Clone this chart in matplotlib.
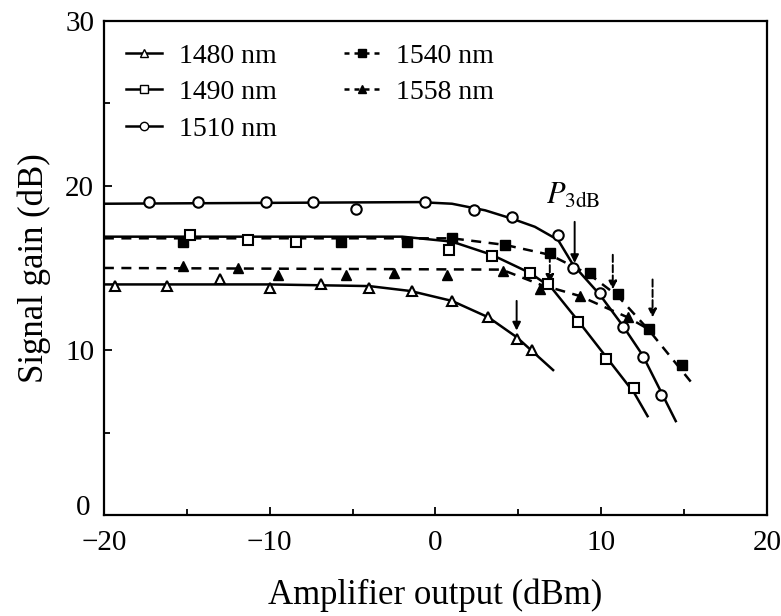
import numpy as np
import matplotlib
matplotlib.use('Agg')
import matplotlib.pyplot as plt
import matplotlib.transforms as mtransforms
from matplotlib.lines import Line2D
from matplotlib.ticker import MultipleLocator, FuncFormatter

plt.rcParams['font.family'] = ['Liberation Serif', 'DejaVu Serif']
plt.rcParams['mathtext.fontset'] = 'stix'

# ------------------------------------------------------------------
# Measured gain (dB) vs amplifier output (dBm) for each signal wavelength
# ------------------------------------------------------------------
x_1480 = [-19.3, -16.2, -13.0, -10.0, -6.9, -4.0, -1.4, 1.0, 3.2, 4.9, 5.8]
y_1480 = [13.9, 13.9, 14.3, 13.8, 14.0, 13.8, 13.6, 13.0, 12.0, 10.7, 10.0]

x_1490 = [-14.8, -11.3, -8.4, 0.8, 3.4, 5.7, 6.8, 8.6, 10.3, 12.0]
y_1490 = [17.0, 16.7, 16.6, 16.1, 15.7, 14.7, 14.0, 11.7, 9.5, 7.7]

x_1510 = [-17.3, -14.3, -10.2, -7.4, -4.8, -0.6, 2.3, 4.6, 7.4, 8.3, 9.9, 11.3, 12.5, 13.6]
y_1510 = [19.0, 19.0, 19.0, 19.0, 18.6, 19.0, 18.5, 18.1, 17.0, 15.0, 13.5, 11.4, 9.6, 7.3]

x_1540 = [-15.2, -5.7, -1.7, 1.0, 4.2, 6.9, 9.3, 11.0, 12.9, 14.9]
y_1540 = [16.6, 16.6, 16.6, 16.8, 16.4, 15.9, 14.7, 13.4, 11.3, 9.1]

x_1558 = [-15.2, -11.9, -9.5, -5.4, -2.5, 0.7, 4.1, 6.3, 8.7, 11.6]
y_1558 = [15.1, 15.0, 14.6, 14.6, 14.7, 14.6, 14.8, 13.7, 13.3, 12.0]

# Hand-drawn fit curves through the data
fx_1480 = [-20, -10, -4, -1.5, 1.0, 3.2, 4.9, 7.1]
fy_1480 = [14.0, 14.0, 13.9, 13.6, 13.0, 12.0, 10.8, 8.8]

fx_1490 = [-20, -2, 1.0, 3.4, 5.7, 7.0, 8.6, 10.3, 12.0, 12.8]
fy_1490 = [16.9, 16.9, 16.6, 15.8, 14.7, 13.8, 11.8, 9.6, 7.4, 6.0]

fx_1510 = [-20, -1, 1.0, 3.0, 4.6, 6.0, 7.4, 8.3, 9.9, 11.3, 12.5, 14.5]
fy_1510 = [18.9, 19.0, 18.9, 18.5, 18.0, 17.5, 16.7, 15.2, 13.4, 11.5, 9.7, 5.7]

fx_1540 = [-20, 1.0, 4.2, 6.9, 9.3, 11.0, 12.9, 15.4]
fy_1540 = [16.8, 16.8, 16.4, 15.8, 14.6, 13.3, 11.2, 8.1]

fx_1558 = [-20, 4.0, 6.3, 8.7, 11.6, 13.0]
fy_1558 = [15.0, 14.9, 14.0, 13.3, 12.0, 11.2]

# P3dB markers: (x, y_start, y_end)
arrows_solid = [(8.4, 17.8, 15.3), (4.9, 13.0, 11.2)]
arrows_dashed = [(6.9, 15.8, 14.1), (10.7, 15.8, 13.7), (13.1, 14.3, 12.0)]

# ------------------------------------------------------------------
fig = plt.figure(figsize=(7.81, 6.16), dpi=100)
ax = fig.add_axes([0.133, 0.164, 0.849, 0.802])

lw = 1.8
ms = 7.5
dash = (0, (4, 3))

ax.plot(fx_1480, fy_1480, '-', color='k', lw=lw)
ax.plot(fx_1490, fy_1490, '-', color='k', lw=lw)
ax.plot(fx_1510, fy_1510, '-', color='k', lw=lw)
ax.plot(fx_1540, fy_1540, color='k', lw=lw, linestyle=dash)
ax.plot(fx_1558, fy_1558, color='k', lw=lw, linestyle=dash)

ax.plot(x_1540, y_1540, 's', color='k', ms=ms, zorder=3)
ax.plot(x_1558, y_1558, '^', color='k', ms=ms, zorder=3)
ax.plot(x_1480, y_1480, '^', mfc='w', mec='k', mew=1.5, ms=ms, zorder=4)
ax.plot(x_1490, y_1490, 's', mfc='w', mec='k', mew=1.5, ms=ms, zorder=4)
ax.plot(x_1510, y_1510, 'o', mfc='w', mec='k', mew=1.5, ms=ms, zorder=4)

for xa, y0, y1 in arrows_solid:
    ax.annotate('', xy=(xa, y1), xytext=(xa, y0),
                arrowprops=dict(arrowstyle='-|>', color='k', lw=1.4,
                                mutation_scale=12, shrinkA=0, shrinkB=0))
for xa, y0, y1 in arrows_dashed:
    ax.annotate('', xy=(xa, y1), xytext=(xa, y0),
                arrowprops=dict(arrowstyle='-|>', color='k', lw=1.4, ls='--',
                                mutation_scale=12, shrinkA=0, shrinkB=0))

ax.text(8.3, 18.9, r'$P_{\mathrm{3dB}}$', ha='center', va='baseline', fontsize=22)

# Axes
ax.set_xlim(-20, 20)
ax.set_ylim(0, 30)
ax.xaxis.set_major_locator(MultipleLocator(10))
ax.xaxis.set_minor_locator(MultipleLocator(5))
ax.yaxis.set_major_locator(MultipleLocator(10))
ax.yaxis.set_minor_locator(MultipleLocator(5))
ax.tick_params(which='both', direction='in', top=False, right=False,
               labelsize=21, width=1.3)
ax.tick_params(which='major', length=6, pad=7)
ax.tick_params(which='minor', length=4)
ax.tick_params(axis='x', which='major', pad=11)
for sp in ax.spines.values():
    sp.set_linewidth(1.6)

# the y "0" is written by hand, lifted a little so it clears the "-20"
ax.yaxis.set_major_formatter(FuncFormatter(lambda v, p: '' if v == 0 else '%d' % v))
ytrans = mtransforms.blended_transform_factory(ax.transAxes, ax.transData)
ax.text(-0.021, 0.4, '0', transform=ytrans, ha='right', va='center', fontsize=21)

ax.set_xlabel('Amplifier output (dBm)', fontsize=25, labelpad=16)
ax.set_ylabel('Signal gain (dB)', fontsize=25, labelpad=10)

# Legend
handles = [
    Line2D([], [], color='k', lw=lw, marker='^', mfc='w', mec='k', ms=6),
    Line2D([], [], color='k', lw=lw, marker='s', mfc='w', mec='k', ms=6),
    Line2D([], [], color='k', lw=lw, marker='o', mfc='w', mec='k', ms=6),
    Line2D([], [], color='k', lw=lw, ls=(0, (2, 2)), marker='s', mfc='k', mec='k', ms=6),
    Line2D([], [], color='k', lw=lw, ls=(0, (2, 2)), marker='^', mfc='k', mec='k', ms=6),
]
labels = ['1480 nm', '1490 nm', '1510 nm', '1540 nm', '1558 nm']
ax.legend(handles, labels, loc='upper left', ncol=2, frameon=False,
          fontsize=20, handlelength=1.3, handletextpad=0.6,
          columnspacing=2.4, labelspacing=0.4, borderaxespad=0.4)

plt.savefig('out.png', dpi=100, facecolor='w')
plt.close()
